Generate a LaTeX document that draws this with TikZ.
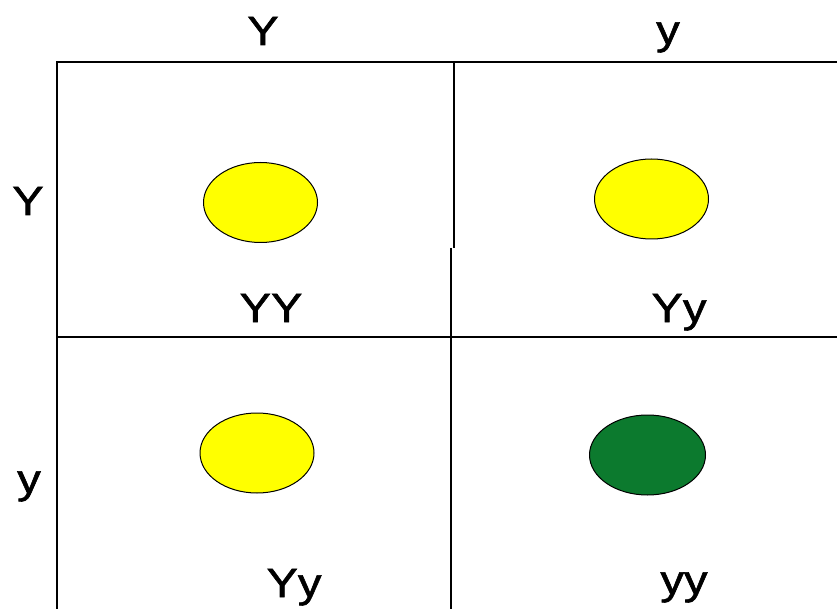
\documentclass[tikz,border=0pt]{standalone}
\usepackage{fontspec}
\setmainfont{Liberation Sans}
\newfontfamily\lblfont{Liberation Sans}[FakeBold=1.3]
\usetikzlibrary{shapes.geometric}
\definecolor{pea}{RGB}{255,255,0}
\definecolor{greenpea}{RGB}{12,122,46}
\tikzset{
  gridline/.style={line width=1.6pt, black},
  pea/.style={ellipse, draw=black, line width=1pt, minimum width=114pt, minimum height=80pt, inner sep=0pt},
  lbl/.style={anchor=base, inner sep=0pt, font=\lblfont\fontsize{41}{44}\selectfont}
}
\newcommand{\wide}[1]{\scalebox{1.15}[1]{#1}}
\begin{document}
\begin{tikzpicture}[x=1pt,y=-1pt]
\useasboundingbox (0,0) rectangle (837,609);
% grid
\coordinate (tl) at (57,62);
\coordinate (tr) at (837,62);
\coordinate (bl) at (57,609);
\coordinate (ml) at (57,337);
\coordinate (mr) at (837,337);
\coordinate (vt) at (454,62);
\coordinate (vm1) at (454,248);
\coordinate (vm2) at (451,248);
\coordinate (vb) at (451,609);
\draw[gridline] (tr) -- (tl) -- (bl);
\draw[gridline] (ml) -- (mr);
\draw[gridline] (vt) -- (vm1);
\draw[gridline] (vm2) -- (vb);
% peas
\node[pea, fill=pea] (p11) at (260.5,202.5) {};
\node[pea, fill=pea] (p12) at (651.5,199) {};
\node[pea, fill=pea] (p21) at (257,453) {};
\node[pea, fill=greenpea, minimum width=116pt] (p22) at (647.5,455) {};
% labels
\node[lbl] (colY) at (263,45) {\wide{Y}};
\node[lbl] (coly) at (668,44) {\wide{y}};
\node[lbl] (rowY) at (28,215) {\wide{Y}};
\node[lbl] (rowy) at (29,493) {\wide{y}};
\node[lbl] (g11) at (271,322) {\wide{YY}};
\node[lbl] (g12) at (679,322) {\wide{Yy}};
\node[lbl] (g21) at (294,597) {\wide{Yy}};
\node[lbl] (g22) at (684,594) {\wide{yy}};
\end{tikzpicture}
\end{document}
